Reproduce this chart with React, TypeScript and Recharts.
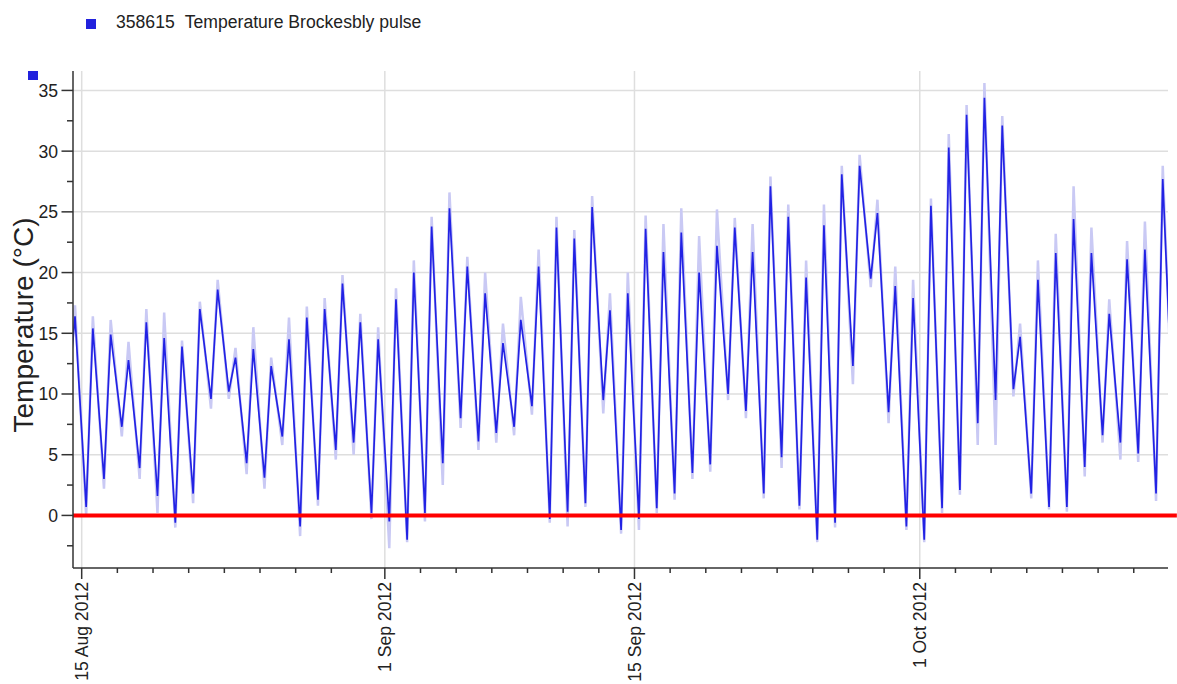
import React from 'react';
import {
    LineChart, Line, XAxis, YAxis, CartesianGrid, ReferenceLine,
} from 'recharts';

// daily readings, 14 Aug 2012 .. 15 Oct 2012 (morning low ~06:00, afternoon high ~15:00)
const FIRST_DAY = '2012-08-14';
const dailyMin = [
    10.0, 0.7, 3.0, 7.3, 3.9, 1.6, -0.6, 1.8, 9.6, 10.2, 4.3, 3.1, 6.5, -0.9, 1.3, 5.4, 6.0, 0.2,
    -0.5, -2.0, 0.2, 4.3, 8.0, 6.1, 6.8, 7.3, 9.0, -0.3, 0.3, 1.0, 9.5, -1.2, -0.3, 0.6, 1.8, 3.5,
    4.2, 10.0, 8.6, 1.8, 4.8, 0.8, -2.0, -0.6, 12.3, 19.5, 8.5, -0.9,
    -2.0, 0.6, 2.1, 7.6, 9.5, 10.4, 1.8, 0.7, 0.7, 4.0, 6.6, 6.0, 5.1, 1.8, 6.0,
];
const dailyMax = [
    16.4, 15.4, 14.9, 12.8, 15.9, 14.6, 13.9, 17.0, 18.6, 13.0, 13.7, 12.3, 14.5, 16.3, 17.0, 19.1, 15.9, 14.5,
    17.8, 20.0, 23.8, 25.3, 20.5, 18.3, 14.2, 16.1, 20.5, 23.7, 22.8, 25.4, 16.9, 18.3, 23.6, 21.7, 23.3, 20.0,
    22.2, 23.7, 21.7, 27.1, 24.6, 19.6, 23.9, 28.1, 28.8, 24.9, 18.9, 17.9,
    25.5, 30.3, 33.0, 34.4, 32.1, 14.7, 19.4, 21.6, 24.4, 21.6, 16.6, 21.1, 21.9, 27.7, null,
];
// raw (unsmoothed) extremes, drawn as the pale trace
const rawMin = [
    10.0, 0.0, 2.2, 6.5, 3.0, 0.2, -1.0, 1.0, 8.8, 9.6, 3.4, 2.2, 5.8, -1.7, 0.8, 4.6, 5.0, -0.3,
    -2.7, -2.2, -0.5, 2.5, 7.2, 5.4, 6.0, 6.6, 8.3, -0.6, -0.9, 0.7, 8.4, -1.5, -1.2, 0.2, 1.3, 3.0,
    3.6, 9.5, 8.0, 1.4, 3.9, 0.5, -2.2, -1.0, 10.8, 18.8, 7.6, -1.2,
    -2.2, 0.2, 1.7, 5.8, 5.8, 9.8, 1.4, 0.5, 0.3, 3.2, 6.0, 4.6, 4.4, 1.2, 5.0,
];
const rawMax = [
    17.3, 16.4, 16.1, 14.3, 17.0, 16.7, 14.4, 17.6, 19.4, 13.8, 15.5, 13.0, 16.3, 17.2, 17.9, 19.8, 16.6, 15.5,
    18.7, 21.0, 24.6, 26.6, 21.3, 20.0, 15.8, 18.0, 21.9, 24.6, 23.5, 26.3, 18.3, 20.0, 24.7, 24.0, 25.3, 23.0,
    25.2, 24.5, 24.0, 27.9, 25.6, 21.0, 25.6, 28.8, 29.7, 26.0, 20.5, 19.4,
    26.1, 31.4, 33.8, 35.6, 32.9, 15.8, 21.0, 23.2, 27.1, 23.7, 17.8, 22.6, 24.2, 28.8, null,
];

const majorTickDates = ['2012-08-15', '2012-09-01', '2012-09-15', '2012-10-01'];
const majorTickLabels = ['15 Aug 2012', '1 Sep 2012', '15 Sep 2012', '1 Oct 2012'];
const minorTickDates = [
    '2012-08-17', '2012-08-19', '2012-08-21', '2012-08-23', '2012-08-25', '2012-08-27', '2012-08-29',
    '2012-09-03', '2012-09-05', '2012-09-07', '2012-09-09', '2012-09-11', '2012-09-13',
    '2012-09-17', '2012-09-19', '2012-09-21', '2012-09-23', '2012-09-25', '2012-09-27', '2012-09-29',
    '2012-10-03', '2012-10-05', '2012-10-07', '2012-10-09', '2012-10-11', '2012-10-13',
];
const yTicks = [-2.5, 0, 2.5, 5, 7.5, 10, 12.5, 15, 17.5, 20, 22.5, 25, 27.5, 30, 32.5, 35];
const yGrid = [0, 5, 10, 15, 20, 25, 30, 35];

const HOUR = 3600000;
const DAY = 24 * HOUR;
const day0 = Date.parse(FIRST_DAY);

const data = dailyMin.flatMap((lo, i) => {
    const t0 = day0 + i * DAY;
    const pts: { t: number; temp: number; raw: number }[] = [{ t: t0 + 6 * HOUR, temp: lo, raw: rawMin[i] }];
    const hi = dailyMax[i];
    if (hi != null) pts.push({ t: t0 + 15 * HOUR, temp: hi, raw: rawMax[i] as number });
    return pts;
});

const majorTs = majorTickDates.map(d => Date.parse(d));
const allTicks = [...majorTs, ...minorTickDates.map(d => Date.parse(d))].sort((a, b) => a - b);
const X_START = Date.parse('2012-08-14T12:18:00Z');
const X_END = Date.parse('2012-10-14T22:05:00Z');
const RED_END = Date.parse('2012-10-15T10:00:00Z');

const FONT = '"Liberation Sans", Arial, sans-serif';
const INK = '#222';

// eslint-disable-next-line @typescript-eslint/no-explicit-any
function XTick({ x, y, payload }: any) {
    const idx = majorTs.indexOf(payload.value);
    const major = idx >= 0;
    return (
        <g>
            <line x1={x} x2={x} y1={y} y2={y + (major ? 11 : 5)} stroke="#333" strokeWidth={1.5} />
            {major && (
                <text
                    transform={`translate(${x + 6.5},${y + 14}) rotate(-90)`}
                    textAnchor="end" fontSize={17.6} fontFamily={FONT} fill={INK}
                >
                    {majorTickLabels[idx]}
                </text>
            )}
        </g>
    );
}

// eslint-disable-next-line @typescript-eslint/no-explicit-any
function YTick({ x, y, payload }: any) {
    const major = payload.value % 5 === 0;
    return (
        <g>
            <line x1={x - (major ? 11.5 : 6)} x2={x} y1={y} y2={y} stroke="#333" strokeWidth={1.5} />
            {major && (
                <text x={x - 15} y={y + 6.5} textAnchor="end" fontSize={17.6} fontFamily={FONT} fill={INK}>
                    {payload.value}
                </text>
            )}
        </g>
    );
}

export default function App() {
    return (
        <div style={{ position: 'absolute', left: 0, top: 0, width: 1177, height: 684, background: '#fff' }}>
            <LineChart width={1177} height={684} data={data} margin={{ top: 71, right: 9, bottom: 0, left: 0 }}>
                <CartesianGrid stroke="#dedede" strokeWidth={1.5} horizontalValues={yGrid} verticalValues={majorTs} />
                <XAxis
                    dataKey="t" type="number" domain={[X_START, X_END]} allowDataOverflow
                    ticks={allTicks} interval={0} tick={<XTick />} tickSize={0} tickMargin={0} height={116}
                    axisLine={{ stroke: '#333', strokeWidth: 1.5 }}
                />
                <YAxis
                    type="number" domain={[-4.33, 36.6]} allowDataOverflow
                    ticks={yTicks} interval={0} tick={<YTick />} tickSize={0} tickMargin={0} width={73}
                    axisLine={{ stroke: '#333', strokeWidth: 1.5 }}
                />
                <Line dataKey="raw" type="linear" stroke="#c9c9f4" strokeWidth={2.5} dot={false} isAnimationActive={false} />
                <Line dataKey="temp" type="linear" stroke="#2222e4" strokeWidth={1.7} dot={false} isAnimationActive={false} />
                <ReferenceLine
                    ifOverflow="visible" stroke="#ff0000" strokeWidth={4}
                    segment={[{ x: X_START, y: 0 }, { x: RED_END, y: 0 }]}
                />
            </LineChart>
            <svg width={1177} height={684} style={{ position: 'absolute', left: 0, top: 0, pointerEvents: 'none' }}>
                <rect x={86} y={19} width={10} height={10} fill="#2222dd" />
                <text x={116} y={28} fontSize={17.6} fontFamily={FONT} fill={INK}>
                    <tspan>358615</tspan>
                    <tspan dx={10}>Temperature Brockesbly pulse</tspan>
                </text>
                <rect x={28} y={71} width={10} height={9} fill="#2222dd" />
                <text
                    transform="translate(33,325) rotate(-90)" textAnchor="middle"
                    fontSize={28} fontFamily={FONT} fill={INK}
                >
                    Temperature (°C)
                </text>
            </svg>
        </div>
    );
}
